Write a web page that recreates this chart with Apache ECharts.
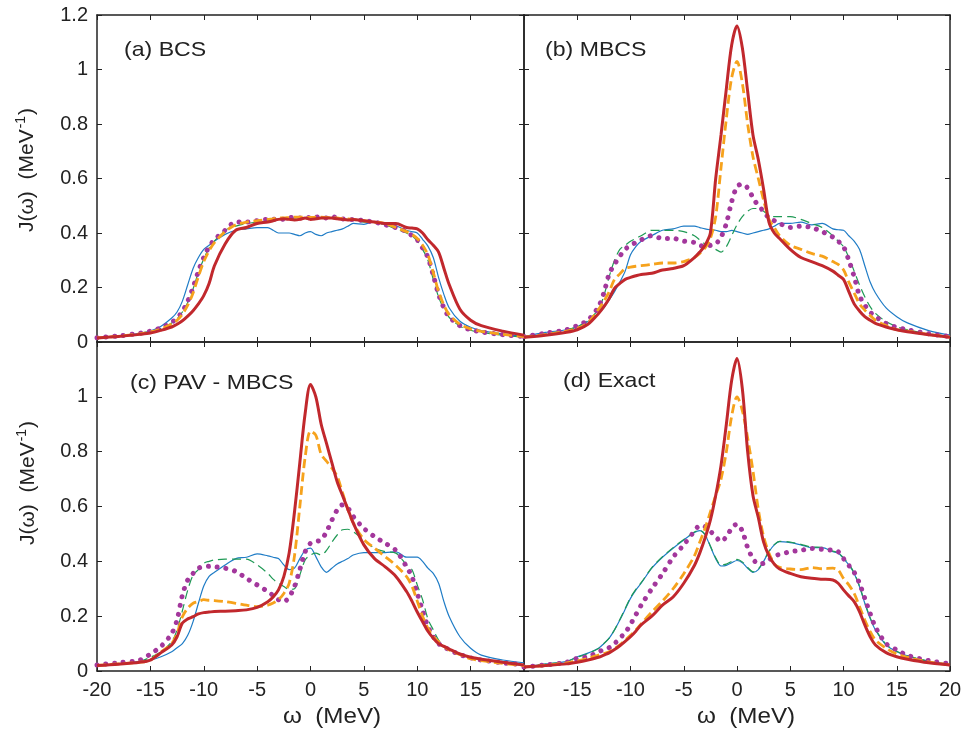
<!DOCTYPE html>
<html>
<head>
<meta charset="utf-8">
<script src="https://cdn.jsdelivr.net/npm/echarts@6/dist/echarts.min.js"></script>
<style>html,body{margin:0;padding:0;background:#fff}#c{width:965px;height:729px}</style>
</head>
<body>
<div id="c"></div>
<script>
// omega grid (MeV)
const W = [-20,-18,-16,-15,-14,-13,-12.5,-12,-11.5,-11,-10.5,-10,-9.5,-9,-8,-7,-6,-5,-4,-3.5,-3,-2.5,-2,-1.5,-1,-0.5,0,0.5,1,1.5,2,2.5,3,3.5,4,5,6,7,8,9,9.5,10,10.5,11,11.5,12,12.5,13,14,15,16,18,20];

// (a) BCS
const aBlue   = [.015,.02,.032,.04,.058,.088,.11,.15,.21,.27,.31,.34,.355,.37,.395,.41,.415,.42,.42,.41,.40,.40,.40,.395,.39,.40,.405,.395,.39,.40,.405,.41,.415,.425,.435,.432,.442,.43,.426,.41,.405,.40,.377,.352,.31,.236,.174,.125,.076,.054,.042,.03,.02];
const aGreen  = [.015,.022,.032,.038,.05,.07,.085,.11,.145,.195,.255,.305,.345,.37,.41,.425,.435,.44,.445,.45,.45,.452,.452,.455,.455,.455,.455,.455,.455,.455,.455,.452,.45,.45,.448,.44,.44,.43,.415,.40,.39,.37,.34,.30,.23,.165,.12,.09,.058,.043,.035,.025,.018];
const aPurple = [.016,.022,.032,.04,.052,.072,.088,.112,.15,.2,.26,.31,.35,.375,.41,.44,.44,.445,.45,.45,.455,.45,.455,.458,.455,.46,.455,.458,.46,.455,.46,.455,.452,.45,.45,.445,.44,.43,.42,.405,.39,.375,.345,.31,.245,.175,.125,.092,.06,.045,.037,.027,.02];
const aOrange = [.015,.021,.03,.037,.048,.066,.08,.102,.135,.18,.24,.295,.335,.365,.405,.43,.44,.445,.45,.452,.455,.455,.457,.458,.458,.458,.457,.458,.458,.457,.456,.455,.453,.452,.45,.445,.44,.435,.42,.405,.395,.38,.355,.32,.255,.185,.135,.10,.065,.048,.039,.028,.02];
const aRed    = [.015,.02,.028,.033,.043,.055,.065,.078,.095,.115,.14,.17,.215,.28,.36,.41,.42,.435,.44,.445,.45,.452,.45,.448,.45,.455,.45,.452,.455,.455,.455,.452,.45,.448,.45,.445,.44,.435,.435,.42,.418,.415,.40,.375,.355,.33,.27,.21,.12,.08,.06,.04,.025];

// (b) MBCS
const bBlue   = [.02,.035,.045,.056,.075,.105,.125,.154,.185,.22,.26,.32,.35,.37,.39,.41,.415,.425,.425,.42,.415,.412,.41,.405,.405,.41,.405,.40,.395,.40,.405,.41,.415,.425,.435,.435,.44,.43,.435,.415,.412,.41,.39,.37,.34,.28,.22,.18,.125,.093,.07,.042,.025];
const bGreen  = [.02,.03,.045,.056,.08,.12,.17,.24,.30,.34,.355,.37,.38,.39,.41,.41,.41,.405,.39,.375,.36,.35,.34,.33,.35,.39,.43,.46,.48,.49,.49,.48,.465,.46,.46,.46,.45,.435,.42,.39,.37,.35,.31,.26,.21,.166,.13,.105,.075,.056,.045,.03,.02];
const bPurple = [.02,.032,.045,.06,.08,.13,.18,.25,.285,.315,.34,.355,.365,.375,.39,.38,.38,.37,.365,.355,.35,.355,.36,.385,.435,.515,.57,.58,.565,.53,.50,.48,.455,.445,.435,.42,.425,.42,.405,.385,.37,.35,.30,.24,.17,.135,.11,.093,.068,.054,.045,.03,.02];
const bOrange = [.018,.027,.04,.05,.07,.12,.15,.185,.23,.25,.27,.275,.278,.28,.285,.29,.29,.295,.31,.325,.345,.38,.46,.64,.82,.97,1.03,.95,.80,.68,.60,.52,.45,.42,.39,.355,.34,.325,.315,.295,.285,.265,.22,.18,.14,.117,.097,.08,.06,.045,.04,.028,.018];
const bRed    = [.017,.025,.036,.045,.065,.105,.13,.16,.197,.215,.23,.237,.243,.248,.252,.264,.27,.28,.31,.33,.355,.40,.60,.76,.93,1.09,1.16,1.08,.92,.76,.67,.56,.44,.40,.38,.34,.31,.295,.28,.26,.245,.23,.185,.14,.114,.093,.08,.068,.055,.045,.038,.027,.017];

// (c) PAV - MBCS
const cBlue   = [.02,.025,.035,.04,.052,.07,.085,.10,.13,.18,.247,.31,.345,.36,.387,.41,.415,.427,.42,.415,.41,.387,.37,.375,.41,.44,.448,.417,.38,.36,.375,.39,.40,.41,.423,.432,.432,.432,.435,.415,.415,.415,.40,.375,.356,.32,.253,.198,.125,.083,.058,.04,.03];
const cGreen  = [.02,.027,.035,.05,.07,.107,.15,.22,.295,.35,.37,.393,.40,.405,.408,.408,.408,.387,.356,.335,.32,.308,.298,.30,.35,.405,.423,.43,.423,.44,.47,.496,.515,.517,.508,.478,.448,.435,.43,.387,.37,.314,.26,.19,.15,.113,.09,.077,.06,.05,.04,.03,.02];
const cPurple = [.022,.03,.04,.062,.09,.137,.186,.277,.332,.356,.375,.38,.382,.38,.375,.363,.338,.314,.29,.275,.26,.253,.27,.308,.37,.435,.466,.472,.478,.508,.55,.587,.606,.594,.564,.52,.49,.466,.44,.38,.344,.283,.22,.162,.125,.10,.088,.077,.06,.048,.04,.03,.022];
const cOrange = [.02,.026,.032,.04,.07,.10,.137,.198,.229,.247,.253,.26,.258,.257,.253,.247,.24,.235,.24,.248,.26,.283,.32,.42,.60,.78,.875,.86,.79,.765,.74,.71,.65,.59,.54,.48,.448,.417,.385,.344,.31,.255,.20,.156,.125,.107,.09,.077,.06,.045,.038,.028,.02];
const cRed    = [.02,.025,.032,.04,.067,.095,.125,.175,.19,.198,.208,.213,.215,.217,.218,.22,.223,.232,.253,.27,.296,.344,.43,.58,.76,.94,1.045,1.0,.90,.83,.76,.69,.64,.59,.54,.46,.41,.38,.345,.29,.255,.215,.18,.145,.12,.10,.09,.08,.062,.05,.043,.032,.022];

// (d) Exact
const dBlue   = [.015,.025,.035,.052,.065,.083,.10,.12,.15,.186,.225,.265,.295,.32,.375,.415,.448,.478,.505,.512,.496,.454,.41,.383,.385,.395,.403,.395,.375,.36,.37,.40,.435,.46,.472,.468,.46,.45,.45,.435,.43,.41,.387,.356,.308,.247,.192,.15,.095,.07,.055,.035,.022];
const dGreen  = [.015,.025,.035,.05,.064,.082,.10,.12,.15,.188,.228,.268,.298,.322,.377,.417,.45,.48,.507,.513,.498,.456,.413,.387,.39,.40,.407,.398,.378,.362,.372,.402,.437,.461,.473,.47,.462,.452,.451,.437,.432,.412,.39,.358,.31,.25,.195,.152,.097,.072,.056,.036,.023];
const dPurple = [.015,.022,.032,.046,.052,.07,.078,.085,.10,.12,.14,.17,.205,.24,.30,.355,.415,.46,.51,.53,.527,.51,.49,.472,.49,.52,.536,.51,.45,.41,.39,.393,.405,.42,.425,.435,.44,.447,.444,.44,.435,.41,.385,.36,.32,.265,.21,.16,.10,.077,.057,.038,.026];
const dOrange = [.015,.02,.03,.037,.046,.058,.064,.07,.082,.095,.112,.13,.15,.172,.215,.255,.30,.355,.42,.47,.52,.58,.64,.70,.80,.93,1.0,.95,.85,.73,.59,.49,.43,.39,.378,.372,.37,.377,.373,.375,.368,.338,.314,.283,.235,.186,.144,.113,.083,.062,.05,.033,.022];
const dRed    = [.015,.02,.026,.032,.04,.05,.058,.066,.078,.092,.108,.125,.145,.168,.20,.24,.27,.32,.385,.43,.485,.55,.64,.75,.90,1.06,1.14,1.03,.80,.64,.56,.47,.42,.39,.372,.356,.344,.338,.335,.332,.32,.296,.274,.253,.217,.168,.125,.095,.067,.052,.043,.03,.022];

const panelTitles = ['(a) BCS', '(b) MBCS', '(c) PAV - MBCS', '(d) Exact'];
const xTicks = [-20,-15,-10,-5,0,5,10,15,20];
const yTicks = [0,0.2,0.4,0.6,0.8,1,1.2];

const panels = [
  [aBlue,aGreen,aPurple,aOrange,aRed],
  [bBlue,bGreen,bPurple,bOrange,bRed],
  [cBlue,cGreen,cPurple,cOrange,cRed],
  [dBlue,dGreen,dPurple,dOrange,dRed]
];

const FONT = '"Liberation Sans", Arial, Helvetica, sans-serif';
const INK = '#222';
const styles = [
  {color:'#1f7cc6', width:1.2, type:'solid', cap:'butt'},
  {color:'#1f9a55', width:1.2, type:[9,5], cap:'butt'},
  {color:'#a3379c', width:5, type:[0.01,8.8], cap:'round'},
  {color:'#f6a21c', width:2.8, type:[9,4.5], cap:'butt'},
  {color:'#c1282d', width:3, type:'solid', cap:'butt'}
];

const grids = [
  {left:97, top:15, width:427, height:327},
  {left:524, top:15, width:426, height:327},
  {left:97, top:342, width:427, height:329},
  {left:524, top:342, width:426, height:329}
];

const axisLineStyle = {color:INK, width:1.5};
const xAxes = [], yAxes = [], series = [];
grids.forEach((g, i) => {
  const bottomRow = i >= 2, leftCol = (i % 2) === 0;
  xAxes.push({
    type:'value', gridIndex:i, position:'bottom', min:-20, max:20, interval:5,
    axisLine:{show:true, onZero:false, lineStyle:axisLineStyle},
    axisTick:{show:true, inside:true, length:5, lineStyle:{color:INK, width:1}},
    splitLine:{show:false},
    axisLabel:{
      show:bottomRow, margin:9, fontSize:20, color:INK, fontFamily:FONT,
      formatter: v => (!leftCol && v === -20) ? '' : String(v)
    }
  });
  xAxes.push({
    type:'value', gridIndex:i, position:'top', min:-20, max:20, interval:5,
    axisLine:{show:true, onZero:false, lineStyle:axisLineStyle},
    axisTick:{show:true, inside:true, length:5, lineStyle:{color:INK, width:1}},
    splitLine:{show:false}, axisLabel:{show:false}
  });
  yAxes.push({
    type:'value', gridIndex:i, position:'left', min:0, max:1.2, interval:0.2,
    axisLine:{show:true, onZero:false, lineStyle:axisLineStyle},
    axisTick:{show:true, inside:true, length:5, lineStyle:{color:INK, width:1}},
    splitLine:{show:false},
    axisLabel:{
      show:leftCol, margin:9, fontSize:20, color:INK, fontFamily:FONT,
      formatter: v => {
        const r = Math.round(v*10)/10;
        if (bottomRow && r === 1.2) return '';
        return String(r);
      }
    }
  });
  yAxes.push({
    type:'value', gridIndex:i, position:'right', min:0, max:1.2, interval:0.2,
    axisLine:{show:true, onZero:false, lineStyle:axisLineStyle},
    axisTick:{show:true, inside:true, length:5, lineStyle:{color:INK, width:1}},
    splitLine:{show:false}, axisLabel:{show:false}
  });
  panels[i].forEach((vals, k) => {
    series.push({
      type:'line', xAxisIndex:2*i, yAxisIndex:2*i,
      data: W.map((w, j) => [w, vals[j]]),
      showSymbol:false, smooth:0.3, z: 2 + k,
      lineStyle: styles[k],
      silent:true
    });
  });
});

const yTitle = (cx, cy) => ({
  type:'text', x:cx, y:cy, rotation:Math.PI/2,
  style:{
    text:'{a|J(ω)  (MeV}{s|-1}{a|)}',
    align:'center', verticalAlign:'middle',
    rich:{
      a:{fontSize:21, fontFamily:FONT, fill:INK, lineHeight:26},
      s:{fontSize:14, fontFamily:FONT, fill:INK, lineHeight:26, verticalAlign:'top', padding:[0,1,0,1]}
    }
  }
});
const label = (x, y, t) => ({
  type:'text', x:x, y:y, scaleX:1.1,
  style:{text:t, fontSize:21, fontFamily:FONT, fill:INK, align:'left', verticalAlign:'middle'}
});
const xTitle = (cx, cy) => ({
  type:'text', x:cx, y:cy, scaleX:1.1,
  style:{text:'ω  (MeV)', fontSize:22, fontFamily:FONT, fill:INK, align:'center', verticalAlign:'middle'}
});

const chart = echarts.init(document.getElementById('c'), null, {renderer:'canvas'});
chart.setOption({
  animation:false,
  backgroundColor:'#fff',
  grid:grids,
  xAxis:xAxes,
  yAxis:yAxes,
  series:series,
  graphic:[
    label(124, 50, panelTitles[0]),
    label(545, 50, panelTitles[1]),
    label(130, 383, panelTitles[2]),
    label(563, 381, panelTitles[3]),
    yTitle(27, 170),
    yTitle(28, 483),
    xTitle(332, 717),
    xTitle(746, 717)
  ]
});
</script>
</body>
</html>
